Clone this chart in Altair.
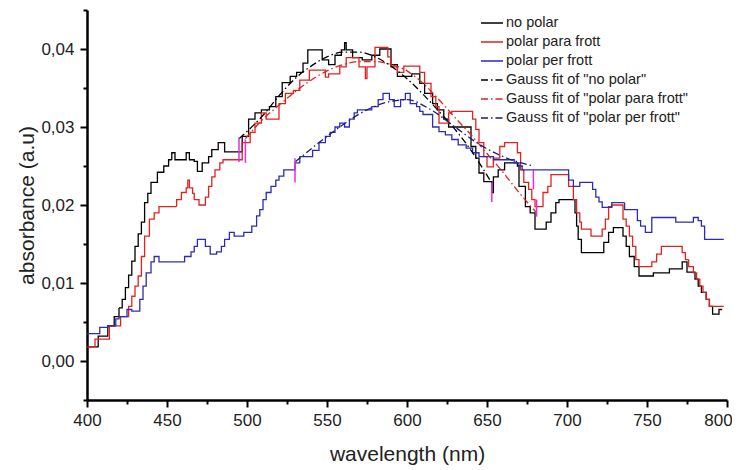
import altair as alt
import pandas as pd

# ---------------- data ----------------
NO_POLAR_X = [400, 407, 413, 417, 420, 422, 424, 426, 428, 430, 432, 434, 436, 438, 440, 444,
              448, 451, 453, 455, 462, 464, 467, 469, 472, 476, 478, 482, 486, 497, 501, 505,
              509, 514, 518, 522, 527, 531, 535, 538, 547, 551, 555, 559, 561, 562, 566, 572,
              578, 583, 590, 594, 603, 608, 611, 616, 619, 623, 626, 640, 643, 645, 648, 653,
              654, 657, 661, 669, 670, 674, 677, 680, 687, 690, 693, 695, 705, 706, 707, 709,
              723, 726, 729, 735, 737, 739, 742, 745, 754, 764, 772, 775, 780, 782, 784, 787,
              789, 791, 795, 797]
NO_POLAR_Y = [0.0018, 0.0032, 0.0045, 0.0057, 0.0068, 0.0079, 0.0094, 0.0110, 0.0128, 0.0147,
              0.0163, 0.0178, 0.0203, 0.0215, 0.0229, 0.0242, 0.0250, 0.0258, 0.0267, 0.0258,
              0.0267, 0.0258, 0.0256, 0.0243, 0.0254, 0.0262, 0.0271, 0.0280, 0.0268, 0.0288,
              0.0310, 0.0318, 0.0322, 0.0326, 0.0339, 0.0357, 0.0365, 0.0370, 0.0382, 0.0399,
              0.0386, 0.0380, 0.0392, 0.0399, 0.0408, 0.0399, 0.0389, 0.0386, 0.0392, 0.0400,
              0.0380, 0.0365, 0.0368, 0.0356, 0.0343, 0.0330, 0.0322, 0.0310, 0.0300, 0.0275,
              0.0260, 0.0241, 0.0230, 0.0216, 0.0236, 0.0245, 0.0254, 0.0250, 0.0224, 0.0198,
              0.0190, 0.0169, 0.0178, 0.0190, 0.0203, 0.0207, 0.0190, 0.0173, 0.0156, 0.0139,
              0.0152, 0.0165, 0.0171, 0.0160, 0.0147, 0.0134, 0.0121, 0.0109, 0.0113, 0.0118,
              0.0127, 0.0114, 0.0105, 0.0096, 0.0088, 0.0079, 0.0070, 0.0060, 0.0066, 0.0066]

PARA_X = [400, 405, 414, 421, 426, 428, 430, 432, 434, 436, 439, 442, 445, 456, 459, 462,
          463, 464, 466, 467, 470, 474, 476, 478, 480, 483, 485, 497, 502, 505, 509, 512,
          520, 524, 529, 533, 539, 549, 551, 558, 562, 570, 574, 575, 580, 588, 590, 594,
          598, 608, 611, 615, 618, 620, 626, 628, 641, 643, 645, 648, 650, 654, 658, 661,
          669, 671, 673, 676, 678, 680, 685, 688, 690, 701, 704, 706, 708, 709, 715, 722,
          724, 726, 728, 735, 737, 739, 741, 743, 745, 753, 756, 759, 772, 774, 776, 779,
          781, 783, 785, 787, 789, 798]
PARA_Y = [0.0018, 0.0028, 0.0045, 0.0057, 0.0070, 0.0083, 0.0096, 0.0109, 0.0134, 0.0160,
          0.0182, 0.0190, 0.0198, 0.0207, 0.0216, 0.0222, 0.0232, 0.0222, 0.0215, 0.0207,
          0.0200, 0.0210, 0.0224, 0.0236, 0.0245, 0.0254, 0.0258, 0.0280, 0.0293, 0.0305,
          0.0318, 0.0310, 0.0330, 0.0343, 0.0347, 0.0360, 0.0373, 0.0364, 0.0368, 0.0377,
          0.0389, 0.0377, 0.0362, 0.0377, 0.0402, 0.0390, 0.0377, 0.0370, 0.0378, 0.0370,
          0.0356, 0.0339, 0.0326, 0.0305, 0.0318, 0.0320, 0.0310, 0.0297, 0.0280, 0.0262,
          0.0249, 0.0260, 0.0275, 0.0280, 0.0267, 0.0245, 0.0229, 0.0220, 0.0207, 0.0198,
          0.0216, 0.0224, 0.0239, 0.0224, 0.0207, 0.0190, 0.0178, 0.0169, 0.0160, 0.0169,
          0.0182, 0.0198, 0.0200, 0.0182, 0.0173, 0.0160, 0.0147, 0.0130, 0.0121, 0.0127,
          0.0137, 0.0147, 0.0139, 0.0130, 0.0121, 0.0113, 0.0105, 0.0096, 0.0088, 0.0079,
          0.0070, 0.0070]

PER_X = [400, 408, 413, 418, 420, 425, 428, 433, 435, 437, 440, 442, 445, 461, 465, 467,
         469, 474, 477, 481, 484, 486, 489, 492, 498, 503, 506, 508, 510, 512, 515, 518,
         520, 523, 530, 533, 541, 545, 549, 552, 555, 558, 561, 564, 567, 569, 578, 582,
         585, 589, 592, 596, 599, 602, 606, 608, 610, 616, 620, 624, 628, 632, 637, 641,
         645, 654, 667, 670, 672, 701, 704, 708, 716, 718, 720, 722, 728, 736, 744, 746,
         749, 753, 768, 779, 782, 784, 786, 798]
PER_Y = [0.0035, 0.0043, 0.0045, 0.0054, 0.0057, 0.0066, 0.0064, 0.0079, 0.0096, 0.0113,
         0.0127, 0.0134, 0.0127, 0.0134, 0.0140, 0.0147, 0.0156, 0.0147, 0.0137, 0.0140,
         0.0147, 0.0156, 0.0165, 0.0160, 0.0165, 0.0173, 0.0186, 0.0194, 0.0207, 0.0216,
         0.0224, 0.0232, 0.0237, 0.0245, 0.0254, 0.0262, 0.0270, 0.0280, 0.0288, 0.0293,
         0.0300, 0.0305, 0.0300, 0.0310, 0.0318, 0.0322, 0.0326, 0.0335, 0.0343, 0.0335,
         0.0326, 0.0335, 0.0343, 0.0330, 0.0326, 0.0320, 0.0316, 0.0300, 0.0294, 0.0290,
         0.0284, 0.0277, 0.0273, 0.0267, 0.0262, 0.0258, 0.0254, 0.0250, 0.0245, 0.0232,
         0.0224, 0.0229, 0.0220, 0.0210, 0.0204, 0.0197, 0.0203, 0.0194, 0.0180, 0.0173,
         0.0165, 0.0184, 0.0178, 0.0184, 0.0180, 0.0173, 0.0156, 0.0156]

FIT_NO_X = [495, 510, 520, 530, 540, 550, 560, 570, 580, 590, 600, 610, 620, 630, 640, 653]
FIT_NO_Y = [0.0285, 0.0315, 0.0340, 0.0362, 0.0378, 0.0390, 0.0396, 0.0396, 0.0390, 0.0378,
            0.0362, 0.0342, 0.0320, 0.0297, 0.0270, 0.0228]

FIT_PARA_X = [499, 510, 520, 530, 540, 550, 560, 570, 580, 590, 600, 610, 620, 630, 640, 650,
              660, 670, 681]
FIT_PARA_Y = [0.0285, 0.0310, 0.0328, 0.0345, 0.0360, 0.0372, 0.0380, 0.0384, 0.0384, 0.0380,
              0.0372, 0.0356, 0.0335, 0.0312, 0.0290, 0.0266, 0.0242, 0.0216, 0.0190]

FIT_PER_X = [530, 545, 560, 575, 590, 600, 615, 630, 645, 660, 679]
FIT_PER_Y = [0.0255, 0.0280, 0.0303, 0.0322, 0.0333, 0.0335, 0.0322, 0.0300, 0.0278, 0.0262,
             0.0250]

MARK_X = [495, 499, 530, 653, 679, 681]
MARK_Y1 = [0.0255, 0.0254, 0.0229, 0.0204, 0.0220, 0.0185]
MARK_Y2 = [0.0287, 0.0284, 0.0260, 0.0229, 0.0245, 0.0207]

SERIES = ["no polar", "polar para frott", "polar per frott",
          'Gauss fit of "no polar"', 'Gauss fit of "polar para frott"',
          'Gauss fit of "polar per frott"']
COLORS = ["#000000", "#e0231e", "#2b2bb4", "#000000", "#e0231e", "#1c1c7a"]
DASHES = [[1, 0], [1, 0], [1, 0], [7, 3, 1.5, 3], [7, 3, 1.5, 3], [7, 3, 1.5, 3]]

X_TICKS = list(range(400, 801, 25))
Y_TICKS = [round(-0.005 + 0.005 * i, 3) for i in range(11)]


def frame(xs, ys, name):
    return pd.DataFrame({"wavelength": xs, "absorbance": ys, "series": name})


steps = pd.concat([frame(NO_POLAR_X, NO_POLAR_Y, SERIES[0]),
                   frame(PARA_X, PARA_Y, SERIES[1]),
                   frame(PER_X, PER_Y, SERIES[2])], ignore_index=True)
fits = pd.concat([frame(FIT_NO_X, FIT_NO_Y, SERIES[3]),
                  frame(FIT_PARA_X, FIT_PARA_Y, SERIES[4]),
                  frame(FIT_PER_X, FIT_PER_Y, SERIES[5])], ignore_index=True)
marks = pd.DataFrame({"wavelength": MARK_X, "absorbance": MARK_Y1, "absorbance_end": MARK_Y2})

FONT = "Liberation Sans"

x_axis = alt.Axis(
    values=X_TICKS,
    labelExpr="datum.value % 50 === 0 ? datum.label : ''",
    tickSize={"condition": {"test": "datum.value % 50 === 0", "value": 7}, "value": 4},
    labelOffset={"condition": {"test": "datum.value === 800", "value": -9}, "value": 0},
    tickWidth=2, tickColor="black", domainColor="black", domainWidth=2.5,
    labelFont=FONT, labelFontSize=17, labelColor="#222222", labelPadding=5,
    titleFont=FONT, titleFontSize=21, titleFontWeight="normal", titleColor="#222222",
    titlePadding=15, grid=False, labelFlush=False, labelOverlap=False,
    title="wavelength (nm)")

y_axis = alt.Axis(
    values=Y_TICKS,
    labelExpr="abs(datum.value*100 - round(datum.value*100)) < 0.001 ? "
              "replace(format(datum.value, '.2f'), '.', ',') : ''",
    tickSize={"condition": {"test": "abs(datum.value*100 - round(datum.value*100)) < 0.001",
                            "value": 7}, "value": 4},
    tickWidth=2, tickColor="black", domainColor="black", domainWidth=2.5,
    labelFont=FONT, labelFontSize=17, labelColor="#222222", labelPadding=6,
    titleFont=FONT, titleFontSize=21, titleFontWeight="normal", titleColor="#222222",
    titlePadding=3, grid=False, labelFlush=False, labelOverlap=False,
    title="absorbance (a.u)")

x_enc = alt.X("wavelength:Q", scale=alt.Scale(domain=[400, 800], nice=False, zero=False),
              axis=x_axis)
y_enc = alt.Y("absorbance:Q", scale=alt.Scale(domain=[-0.005, 0.045], nice=False, zero=False),
              axis=y_axis)

legend = alt.Legend(orient="none", legendX=393, legendY=1, title=None,
                    symbolType="stroke", symbolSize=484, symbolStrokeWidth=1.5,
                    labelFont=FONT, labelFontSize=14.5, labelColor="#222222",
                    labelLimit=400, labelOffset=2, rowPadding=-6.5, padding=0)

color_enc = alt.Color("series:N", scale=alt.Scale(domain=SERIES, range=COLORS), legend=legend)
dash_enc = alt.StrokeDash("series:N", scale=alt.Scale(domain=SERIES, range=DASHES), legend=legend)

step_layer = alt.Chart(steps).mark_line(interpolate="step-after", strokeWidth=1.3).encode(
    x=x_enc, y=y_enc, color=color_enc, strokeDash=dash_enc)

fit_layer = alt.Chart(fits).mark_line(interpolate="monotone", strokeWidth=1.3).encode(
    x=x_enc, y=y_enc, color=color_enc, strokeDash=dash_enc)

mark_layer = alt.Chart(marks).mark_rule(color="#e030e0", strokeWidth=1.5).encode(
    x=x_enc, y=y_enc, y2="absorbance_end:Q")

chart = alt.layer(step_layer, fit_layer, mark_layer).properties(
    width=640, height=390,
    autosize=alt.AutoSizeParams(type="none"),
    padding={"left": 79, "top": 2, "right": 5, "bottom": 70},
    background="white",
).configure_view(stroke=None)

chart.save("out.html", embed_options={"renderer": "svg", "actions": False})
